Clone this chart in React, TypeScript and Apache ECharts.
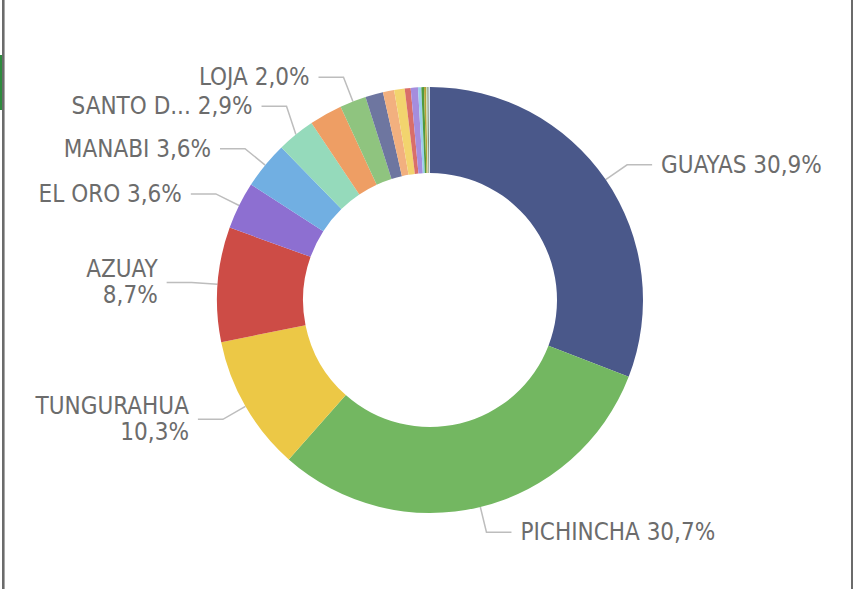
import React, { useEffect, useRef } from "react";
import * as echarts from "echarts";

const provinces = [
  "GUAYAS", "PICHINCHA", "TUNGURAHUA", "AZUAY", "EL ORO", "MANABI",
  "SANTO DOMINGO DE LOS TSACHILAS", "CHIMBORAZO", "LOJA", "IMBABURA",
  "COTOPAXI", "LOS RIOS", "ESMERALDAS", "CAÑAR", "BOLIVAR", "SUCUMBIOS",
  "ORELLANA", "NAPO", "CARCHI", "PASTAZA",
];
const values = [
  30.9, 30.7, 10.3, 8.7, 3.6, 3.6, 2.9, 2.5, 2.0, 1.35,
  0.85, 0.8, 0.45, 0.55, 0.25, 0.2, 0.15, 0.1, 0.1, 0.1,
];
const labelNames = [
  "GUAYAS", "PICHINCHA", "TUNGURAHUA", "AZUAY", "EL ORO", "MANABI",
  "SANTO D...", "", "LOJA", "", "", "", "", "", "", "", "", "", "", "",
];
const twoLine = [false, false, true, true, false, false, false, false, false];
const colors = [
  "#4A588A", "#73B761", "#ECC846", "#CD4C46", "#8D6FD1", "#71AFE2",
  "#95DABB", "#EE9E64", "#8FC47F", "#6E76A0", "#F2B07F", "#F2D46E",
  "#D96E6A", "#A58DDD", "#9ACFEB", "#4E9A3E", "#B5A23A", "#C9E0B4",
  "#7E8F7A", "#D7E4F0",
];

export default function App() {
  const ref = useRef<HTMLDivElement>(null);
  useEffect(() => {
    document.body.style.margin = "0";
    if (!ref.current) return;
    const chart = echarts.init(ref.current, undefined, { renderer: "svg" });
    const data = provinces.map((name, i) => ({
      name,
      value: values[i],
      itemStyle: { color: colors[i] },
      label: { show: labelNames[i] !== "" },
      labelLine: { show: labelNames[i] !== "" },
    }));
    chart.setOption({
      animation: false,
      backgroundColor: "#ffffff",
      graphic: [
        { type: "rect", shape: { x: 2, y: 0, width: 2, height: 589 }, style: { fill: "#6b6b6b" } },
        { type: "rect", shape: { x: 4, y: 0, width: 1, height: 589 }, style: { fill: "#a8a8a8" } },
        { type: "rect", shape: { x: 0, y: 55, width: 2, height: 55 }, style: { fill: "#2e8b3e" } },
        { type: "rect", shape: { x: 851, y: 0, width: 2, height: 589 }, style: { fill: "#6b6b6b" } },
      ],
      series: [
        {
          type: "pie",
          center: [430, 300],
          radius: [127, 213],
          startAngle: 90,
          clockwise: true,
          avoidLabelOverlap: true,
          data,
          label: {
            position: "outside",
            color: "#6c6c6c",
            fontSize: 24,
            fontFamily: "'DejaVu Sans Condensed', 'DejaVu Sans', sans-serif",
            lineHeight: 26,
            distanceToLabelLine: 9,
            formatter: (p: any) => {
              const i = p.dataIndex;
              const pct = p.value.toFixed(1).replace(".", ",") + "%";
              return labelNames[i] + (twoLine[i] ? "\n" : " ") + pct;
            },
          },
          labelLine: {
            length: 26,
            length2: 25,
            lineStyle: { color: "#bdbdbd", width: 1.5 },
          },
          labelLayout: (params: any) => {
            if (params.dataIndex !== 6 || !params.labelLinePoints) return {};
            const pts = params.labelLinePoints.map((p: number[]) => [p[0], p[1]]);
            const dx = 7;
            const dy = -8;
            pts[1] = [pts[1][0] + dx, pts[1][1] + dy];
            pts[2] = [pts[2][0] + dx, pts[2][1] + dy];
            return { dx, dy, labelLinePoints: pts };
          },
        },
      ],
    });
    return () => chart.dispose();
  }, []);
  return <div ref={ref} style={{ width: 854, height: 589 }} />;
}
